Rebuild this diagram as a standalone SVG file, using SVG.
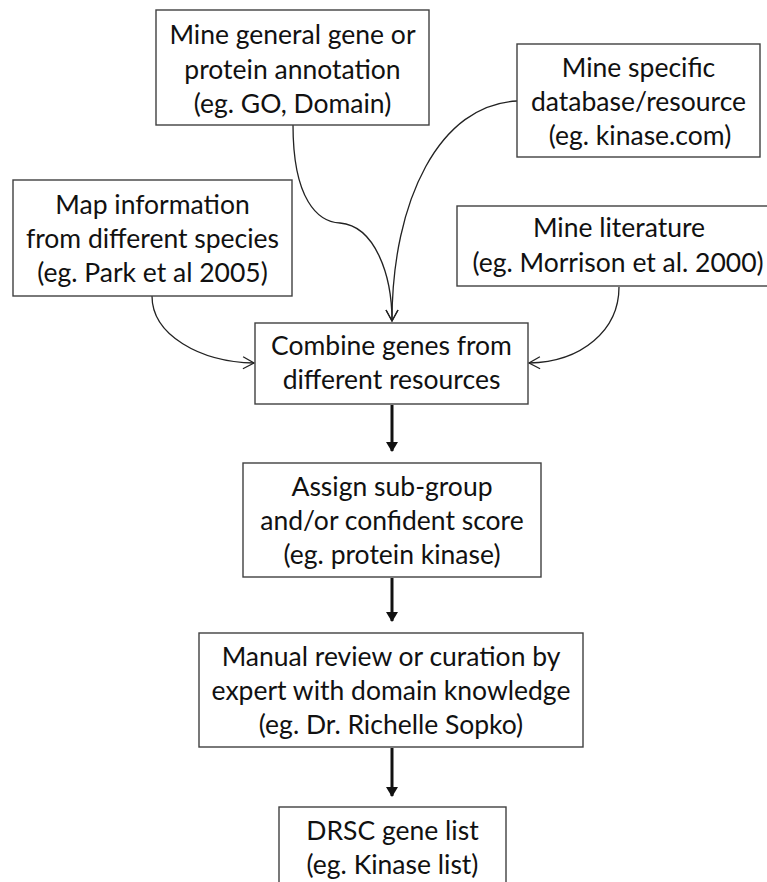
<svg xmlns="http://www.w3.org/2000/svg" width="767" height="882" viewBox="0 0 767 882">
<style>
.box{fill:#fff;stroke:#404040;stroke-width:1.4}
.t{font-family:Lato,"Liberation Sans",sans-serif;font-size:26.5px;fill:#111;text-anchor:middle}
.c{fill:none;stroke:#222;stroke-width:1.3}
.k{fill:none;stroke:#111;stroke-width:3}
</style>
<defs>
<marker id="open" markerUnits="userSpaceOnUse" markerWidth="16" markerHeight="16" refX="12" refY="7" orient="auto">
<path d="M1,1 L12,7 L1,13" fill="none" stroke="#222" stroke-width="1.3"/>
</marker>
<marker id="solid" markerUnits="userSpaceOnUse" markerWidth="14" markerHeight="14" refX="9" refY="6" orient="auto">
<path d="M0,0 L10,6 L0,12 Z" fill="#111"/>
</marker>
</defs>
<g id="connectors">
<path class="c" d="M293,125 C293,200 318,222 340,223 C375,226 392,275 392,321" marker-end="url(#open)"/>
<path class="c" d="M517,101 C440,104 392,200 392,321" marker-end="url(#open)"/>
<path class="c" d="M152,296 C152,335 200,362 254,363" marker-end="url(#open)"/>
<path class="c" d="M619,287 C619,330 582,362 529,363" marker-end="url(#open)"/>
<path class="k" d="M392,405 L392,451" marker-end="url(#solid)"/>
<path class="k" d="M392,578 L392,621" marker-end="url(#solid)"/>
<path class="k" d="M392,748 L392,796" marker-end="url(#solid)"/>
</g>
<g id="n1"><rect class="box" x="156" y="10" width="273" height="115"/>
<text class="t" x="292.5" y="44">Mine general gene or</text>
<text class="t" x="292.5" y="79">protein annotation</text>
<text class="t" x="292.5" y="113">(eg. GO, Domain)</text></g>
<g id="n2"><rect class="box" x="517" y="44" width="243" height="113"/>
<text class="t" x="638.5" y="77">Mine specific</text>
<text class="t" x="638.5" y="111">database/resource</text>
<text class="t" x="640" y="145">(eg. kinase.com)</text></g>
<g id="n3"><rect class="box" x="13" y="180" width="279" height="116"/>
<text class="t" x="152.5" y="214">Map information</text>
<text class="t" x="152.5" y="248">from different species</text>
<text class="t" x="152.5" y="282">(eg. Park et al 2005)</text></g>
<g id="n4"><rect class="box" x="457" y="206" width="323" height="80"/>
<text class="t" x="619" y="237">Mine literature</text>
<text class="t" x="618" y="272">(eg. Morrison et al. 2000)</text></g>
<g id="n5"><rect class="box" x="255" y="323" width="273" height="81"/>
<text class="t" x="391.5" y="355">Combine genes from</text>
<text class="t" x="391.5" y="389">different resources</text></g>
<g id="n6"><rect class="box" x="243" y="463" width="298" height="114"/>
<text class="t" x="392" y="496">Assign sub-group</text>
<text class="t" x="392" y="530">and/or confident score</text>
<text class="t" x="392" y="564">(eg. protein kinase)</text></g>
<g id="n7"><rect class="box" x="199" y="633" width="384" height="114"/>
<text class="t" x="391" y="666">Manual review or curation by</text>
<text class="t" x="391" y="700">expert with domain knowledge</text>
<text class="t" x="391" y="734">(eg. Dr. Richelle Sopko)</text></g>
<g id="n8"><rect class="box" x="279" y="807" width="227" height="90"/>
<text class="t" x="392.5" y="840">DRSC gene list</text>
<text class="t" x="392.5" y="874">(eg. Kinase list)</text></g>
</svg>
